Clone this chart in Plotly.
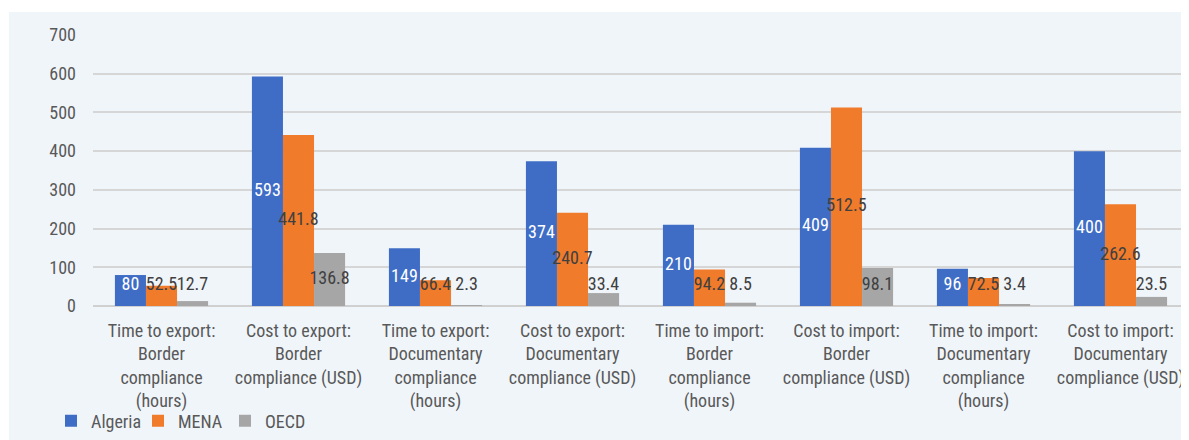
import plotly.graph_objects as go

categories = [
    "Time to export:<br>Border<br>compliance<br>(hours)",
    "Cost to export:<br>Border<br>compliance (USD)",
    "Time to export:<br>Documentary<br>compliance<br>(hours)",
    "Cost to export:<br>Documentary<br>compliance (USD)",
    "Time to import:<br>Border<br>compliance<br>(hours)",
    "Cost to import:<br>Border<br>compliance (USD)",
    "Time to import:<br>Documentary<br>compliance<br>(hours)",
    "Cost to import:<br>Documentary<br>compliance (USD)",
]
algeria = [80, 593, 149, 374, 210, 409, 96, 400]
mena = [52.5, 441.8, 66.4, 240.7, 94.2, 512.5, 72.5, 262.6]
oecd = [12.7, 136.8, 2.3, 33.4, 8.5, 98.1, 3.4, 23.5]
y_ticks = [0, 100, 200, 300, 400, 500, 600, 700]

FONT = "Roboto Condensed, Liberation Sans Narrow, DejaVu Sans Condensed, Roboto, sans-serif"
TXT = "#595959"
FS = 18

series = [
    ("Algeria", algeria, "#3f6dc6", "white"),
    ("MENA", mena, "#f07b2b", "#404040"),
    ("OECD", oecd, "#a6a6a6", "#404040"),
]

W, H = 1181, 432
L, T, B = 85, 27, 134
PW, PH = W - L, H - T - B

fig = go.Figure()
for name, vals, col, _ in series:
    fig.add_trace(go.Bar(
        x=categories, y=vals, name=name, marker=dict(color=col, line=dict(width=0)),
        offsetgroup=name, hoverinfo="skip",
    ))
for name, vals, col, tcol in series:
    fig.add_trace(go.Scatter(
        x=categories, y=[max(v / 2, 53) for v in vals], mode="text",
        text=[f"{v:g}" for v in vals], textposition="middle center",
        textfont=dict(family=FONT, size=FS, color=tcol),
        offsetgroup=name, showlegend=False, hoverinfo="skip", cliponaxis=False,
    ))

# light panel background
fig.add_shape(type="rect", xref="paper", yref="paper",
              x0=(1 - L) / PW, x1=1.01, y0=-0.6, y1=(T + PH - 4) / PH,
              fillcolor="#f0f5fa", line=dict(width=0), layer="below")

fig.update_layout(
    width=W, height=H,
    margin=dict(l=L, r=0, t=T, b=B),
    paper_bgcolor="white", plot_bgcolor="rgba(0,0,0,0)",
    barmode="group", bargap=0.32, bargroupgap=0,
    scattermode="group", scattergap=0.32,
    font=dict(family=FONT, size=FS, color=TXT),
    showlegend=True,
    legend=dict(orientation="h", x=(43 - L) / PW, xanchor="left",
                y=-(413 - T - PH) / PH, yanchor="middle",
                font=dict(family=FONT, size=FS, color=TXT),
                bgcolor="rgba(0,0,0,0)", itemwidth=30, tracegroupgap=0,
                entrywidth=42, entrywidthmode="pixels"),
    xaxis=dict(showgrid=False, showline=False, ticks="", ticklabelstandoff=12,
               tickfont=dict(family=FONT, size=FS, color=TXT)),
    yaxis=dict(range=[0, 700], tickvals=y_ticks, showgrid=True, gridcolor="#d6d6d6", gridwidth=1.5,
               zeroline=True, zerolinecolor="#d0d0d0", zerolinewidth=2,
               ticklabelstandoff=16, tickfont=dict(family=FONT, size=FS, color=TXT)),
)

fig.write_html("out.html")
